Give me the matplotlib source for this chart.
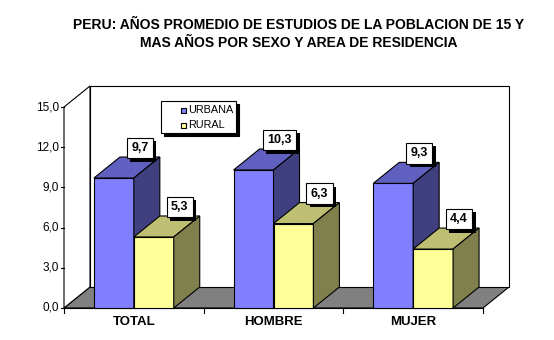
import matplotlib
matplotlib.use("Agg")
import matplotlib.pyplot as plt
from matplotlib.patches import Polygon, Rectangle
import matplotlib.patheffects as pe
import numpy as np

# ---- data ----
categories = ["TOTAL", "HOMBRE", "MUJER"]
series_names = ["URBANA", "RURAL"]
urbana = [9.7, 10.3, 9.3]
rural = [5.3, 6.3, 4.4]
value_labels_urbana = ["9,7", "10,3", "9,3"]
value_labels_rural = ["5,3", "6,3", "4,4"]
yticks = [0, 3, 6, 9, 12, 15]
ytick_labels = ["0,0", "3,0", "6,0", "9,0", "12,0", "15,0"]
title = "PERU: AÑOS PROMEDIO DE ESTUDIOS DE LA POBLACION DE 15 Y\nMAS AÑOS POR SEXO Y AREA DE RESIDENCIA"

# ---- layout (pixels) ----
W, H = 554, 340
x0_px, x1_px = 64, 483          # front plane x extents (category axis)
y0_px, y15_px = 308, 107        # pixel rows (from top) for value 0 and 15
ddx_px, ddy_px = 26, 21         # depth offset

ppx = (x1_px - x0_px) / len(categories)
ppy = (y0_px - y15_px) / 15.0
xmin = -x0_px / ppx
xmax = (W - x0_px) / ppx
ymin = -(H - y0_px) / ppy
ymax = y0_px / ppy
DX = ddx_px / ppx
DY = ddy_px / ppy

plt.rcParams['font.family'] = ['Liberation Sans', 'DejaVu Sans']
fig = plt.figure(figsize=(W / 100, H / 100), dpi=100)
ax = fig.add_axes([0, 0, 1, 1])
ax.set_xlim(xmin, xmax)
ax.set_ylim(ymin, ymax)
ax.set_axis_off()

lw = 0.8
ncat = len(categories)
ymaxv = yticks[-1]

# floor
ax.add_patch(Polygon([(0, 0), (ncat, 0), (ncat + DX, DY), (DX, DY)], closed=True,
                     facecolor="#808080", edgecolor="black", lw=lw, zorder=1))
# back wall
ax.add_patch(Polygon([(DX, DY), (DX, ymaxv + DY), (ncat + DX, ymaxv + DY), (ncat + DX, DY)],
                     closed=True, facecolor="white", edgecolor="black", lw=lw, zorder=1))
# left wall
ax.add_patch(Polygon([(0, 0), (0, ymaxv), (DX, ymaxv + DY), (DX, DY)], closed=True,
                     facecolor="white", edgecolor="black", lw=lw, zorder=1))

# axes ticks
tick_x = 3.5 / ppx
for t, lab in zip(yticks, ytick_labels):
    ax.plot([-tick_x, 0], [t, t], color="black", lw=lw, zorder=2)
    ax.text(-5 / ppx, t, lab, ha="right", va="center", fontsize=8.5, zorder=2)
tick_y = 5 / ppy
for i in range(ncat + 1):
    ax.plot([i, i], [0, -tick_y], color="black", lw=lw, zorder=2)
ax.plot([0, ncat], [0, 0], color="black", lw=lw, zorder=2)

for i, c in enumerate(categories):
    ax.text(i + 0.5, -14 / ppy, c, ha="center", va="center", fontsize=9.5,
            fontweight="bold", zorder=2)

# bars
bw = 1 / 3.5
centers = np.arange(ncat) + 0.5
colors = {
    "URBANA": ("#8080FF", "#6060C0", "#404080"),
    "RURAL": ("#FFFF99", "#BFBF73", "#80804D"),
}
series = [(urbana, value_labels_urbana, "URBANA", centers - bw),
          (rural, value_labels_rural, "RURAL", centers)]

shadow = [pe.SimplePatchShadow(offset=(2.5, -2.5), shadow_rgbFace="black", alpha=1.0),
          pe.Normal()]

z = 3
for i in range(ncat):
    for vals, labs, name, lefts in series:
        front, top, side = colors[name]
        v = vals[i]
        xl = lefts[i]
        ax.bar(xl, v, width=bw, align="edge", color=front, edgecolor="black",
               lw=lw, zorder=z)
        ax.add_patch(Polygon([(xl, v), (xl + DX, v + DY), (xl + bw + DX, v + DY), (xl + bw, v)],
                             closed=True, facecolor=top, edgecolor="black", lw=lw, zorder=z))
        ax.add_patch(Polygon([(xl + bw, 0), (xl + bw, v), (xl + bw + DX, v + DY), (xl + bw + DX, DY)],
                             closed=True, facecolor=side, edgecolor="black", lw=lw, zorder=z))
        z += 1
        lx = xl + bw / 2 + DX
        ly = v + DY + 9 / ppy
        t = ax.text(lx, ly, labs[i], ha="center", va="center", fontsize=9,
                    fontweight="bold", color="black", zorder=21,
                    bbox=dict(boxstyle="square,pad=0.35", facecolor="white",
                              edgecolor="black", lw=lw))
        t.get_bbox_patch().set_path_effects(shadow)

# legend
lx0, lx1 = (161 - x0_px) / ppx, (236 - x0_px) / ppx
ly0, ly1 = (y0_px - 133) / ppy, (y0_px - 101) / ppy
sh_x, sh_y = 3 / ppx, 3 / ppy
ax.add_patch(Rectangle((lx0 + sh_x, ly0 - sh_y), lx1 - lx0, ly1 - ly0, facecolor="black",
                       edgecolor="black", lw=lw, zorder=30))
ax.add_patch(Rectangle((lx0, ly0), lx1 - lx0, ly1 - ly0, facecolor="white",
                       edgecolor="black", lw=lw, zorder=31))
sq = 5 / ppx
sqh = 5 / ppy
for k, name in enumerate(series_names):
    ycen = (y0_px - (110 + 15 * k)) / ppy
    xs = (181 - x0_px) / ppx
    ax.add_patch(Rectangle((xs, ycen - sqh / 2), sq, sqh, facecolor=colors[name][0],
                           edgecolor="black", lw=lw, zorder=32))
    ax.text((188 - x0_px) / ppx, ycen, name, ha="left", va="center", fontsize=7.8, zorder=32)

# title
fig.text(299 / W, 1 - 34 / H, title, ha="center", va="center", fontsize=10,
         fontweight="bold", linespacing=1.4)

fig.savefig("out.png", dpi=100, facecolor="white")
